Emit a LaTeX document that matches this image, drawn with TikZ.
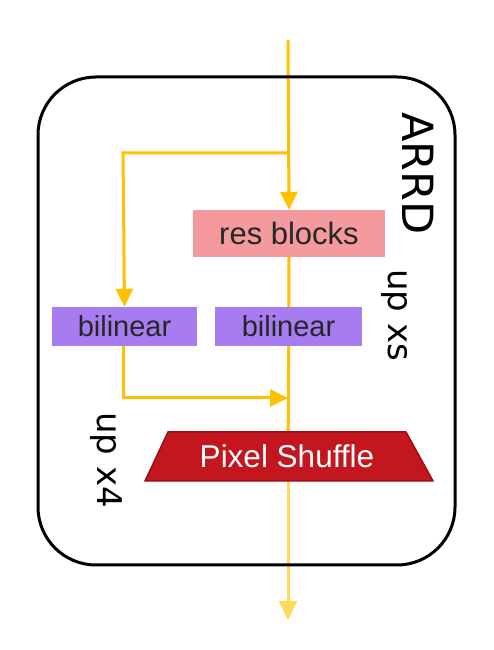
\documentclass[tikz,border=0pt]{standalone}
\usepackage{fontspec}
\setmainfont{Liberation Sans}
\newfontfamily\dvfont{DejaVu Sans}
\usetikzlibrary{arrows.meta,backgrounds}
\definecolor{flow}{HTML}{FFC000}
\definecolor{flowlight}{HTML}{FFD85C}
\definecolor{resfill}{HTML}{F4999D}
\definecolor{bilfill}{HTML}{A87CF1}
\definecolor{psfill}{HTML}{C3161F}
\definecolor{psdraw}{HTML}{9A0F16}
\tikzset{
  flowline/.style={draw=flow, line width=3pt},
  flowarrow/.style={flowline, -{Triangle[width=17pt,length=18pt]}},
  blockbox/.style={inner sep=0pt, font=\fontsize{29}{34}\selectfont, text=black!85},
  reslabel/.style={font=\dvfont\fontsize{34}{40}\selectfont, rotate=-90, inner sep=0pt},
}
\begin{document}
\begin{tikzpicture}[x=1pt,y=1pt]
\useasboundingbox (0,0) rectangle (493,650);
% outer module frame
\draw[line width=3pt, rounded corners=58pt] (38,85) rectangle (455,573);
% blocks
\node[blockbox, font=\fontsize{31}{36}\selectfont, fill=resfill, minimum width=192pt, minimum height=47pt] (res) at (289,416.5) {res blocks};
\node[blockbox, fill=bilfill, minimum width=145pt, minimum height=39pt] (bilL) at (124.5,323.5) {bilinear};
\node[blockbox, fill=bilfill, minimum width=147pt, minimum height=39pt] (bilR) at (288.5,323.5) {bilinear};
\draw[psdraw, fill=psfill, line width=1.5pt] (168,218) -- (406,218) -- (433,169) -- (145,169) -- cycle;
\node[inner sep=0pt, text=white, font=\fontsize{31.5}{37}\selectfont] (ps) at (287,194) {Pixel Shuffle};
% labels
\node[reslabel, font=\dvfont\fontsize{43}{50}\selectfont] (arrd) at (418,476.5) {ARRD};
\node[reslabel] (upxs) at (394,335) {up xs};
\node[reslabel] (upx4) at (106,190) {up x4};
% coordinates
\coordinate (in) at (288,610);
\coordinate (split) at (288,497);
\coordinate (corner1) at (123,497);
\coordinate (corner2) at (123,252);
\coordinate (join) at (288,252);
\coordinate (psbot) at (288,169);
\coordinate (out) at (288,30);
\begin{scope}[on background layer]
\draw[flowarrow] (in) -- (res.north);
\draw[flowarrow] (split) -- (corner1) -- (bilL.north);
\draw[flowline] (res.south) -- (psbot);
\draw[flowarrow] (bilL.south -| corner2) -- (corner2) -- (join);
\draw[draw=flowlight, line width=3pt, -{Triangle[width=18pt,length=19pt]}] (psbot) -- (out);
\end{scope}
\end{tikzpicture}
\end{document}
